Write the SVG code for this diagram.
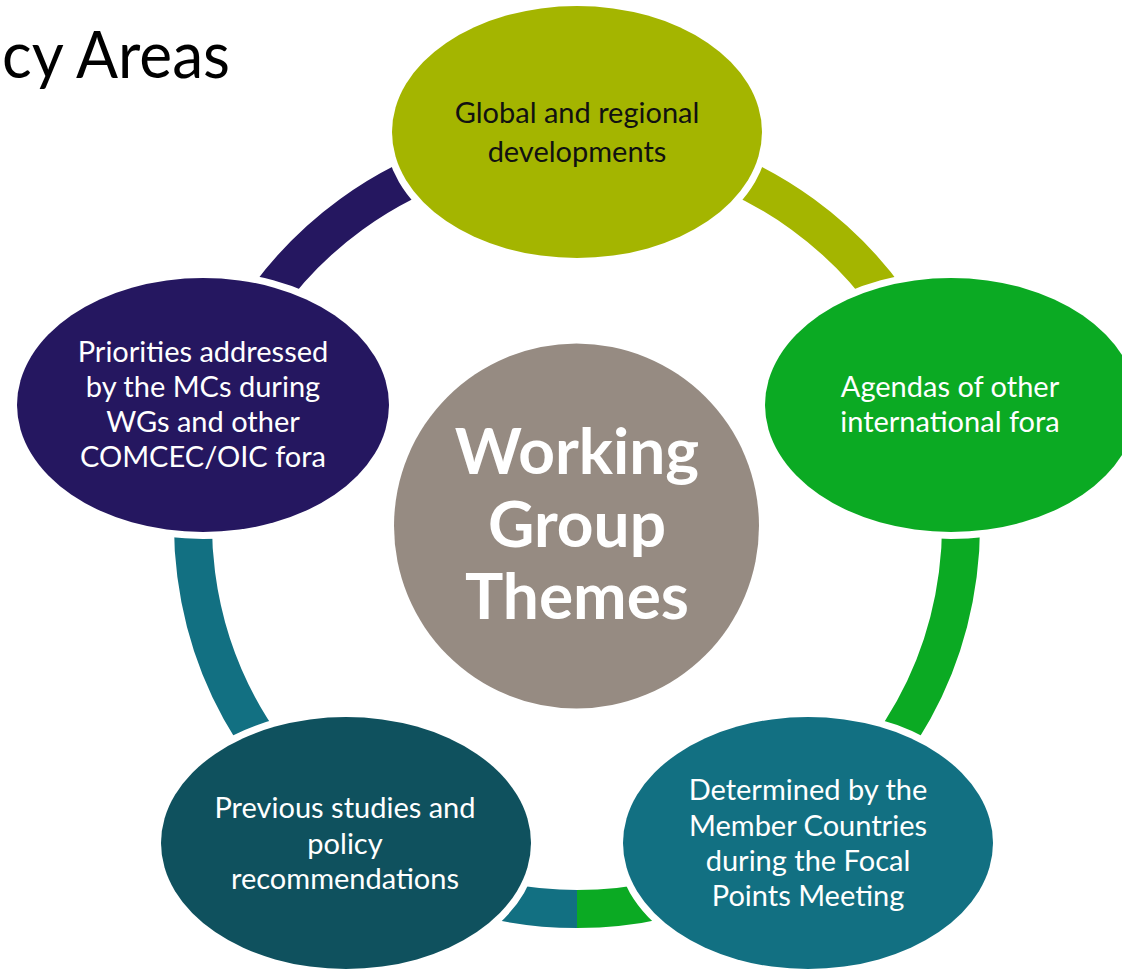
<svg xmlns="http://www.w3.org/2000/svg" width="1122" height="969" viewBox="0 0 1122 969">
<style>
.node{stroke:#fff;stroke-width:14;paint-order:stroke}
.arc{fill:none;stroke-width:38}
.t{font-family:Lato,"Liberation Sans",sans-serif;font-size:29px;text-anchor:middle}
.w{fill:#fff}
.k{fill:#111}
.c{font-family:Lato,"Liberation Sans",sans-serif;font-weight:700;font-size:64px;fill:#fff;text-anchor:middle}
</style>
<rect width="1122" height="969" fill="#fff"/>
<text id="title" x="2" y="78" font-family="Lato, 'Liberation Sans', sans-serif" font-size="66" fill="#000" textLength="228" lengthAdjust="spacingAndGlyphs">cy Areas</text>
<g id="connectors">
<path class="arc" stroke="#251760" d="M211.8 406.3A384 384 0 0 1 577 141"/>
<path class="arc" stroke="#A4B500" d="M577 141A384 384 0 0 1 942.2 406.3"/>
<path class="arc" stroke="#0BAA23" d="M942.2 406.3A384 384 0 0 1 577 909"/>
<path class="arc" stroke="#127082" d="M577 909A384 384 0 0 1 211.8 406.3"/>
</g>
<g id="node-center">
<circle cx="576.5" cy="526" r="182.5" fill="#968B82"/>
<text class="c" x="577" y="474">Working</text>
<text class="c" x="577" y="547">Group</text>
<text class="c" x="577" y="619">Themes</text>
</g>
<g id="node-global">
<ellipse class="node" cx="577" cy="132" rx="185" ry="126" fill="#A4B500"/>
<text class="t k" x="577" y="123">Global and regional</text>
<text class="t k" x="577" y="162">developments</text>
</g>
<g id="node-agendas">
<ellipse class="node" cx="951" cy="405" rx="186" ry="127" fill="#0BAA23"/>
<text class="t w" x="950" y="397">Agendas of other</text>
<text class="t w" x="950" y="432">international fora</text>
</g>
<g id="node-determined">
<ellipse class="node" cx="808" cy="843" rx="185" ry="126" fill="#127082"/>
<text class="t w" x="808" y="800">Determined by the</text>
<text class="t w" x="808" y="835.5">Member Countries</text>
<text class="t w" x="808" y="870.5">during the Focal</text>
<text class="t w" x="808" y="906">Points Meeting</text>
</g>
<g id="node-previous">
<ellipse class="node" cx="346" cy="843" rx="185" ry="126" fill="#0F515E"/>
<text class="t w" x="345" y="818">Previous studies and</text>
<text class="t w" x="345" y="853.5">policy</text>
<text class="t w" x="345" y="889">recommendations</text>
</g>
<g id="node-priorities">
<ellipse class="node" cx="203" cy="405" rx="186" ry="127" fill="#251760"/>
<text class="t w" x="203" y="362">Priorities addressed</text>
<text class="t w" x="203" y="397">by the MCs during</text>
<text class="t w" x="203" y="432">WGs and other</text>
<text class="t w" x="203" y="467">COMCEC/OIC fora</text>
</g>
</svg>
